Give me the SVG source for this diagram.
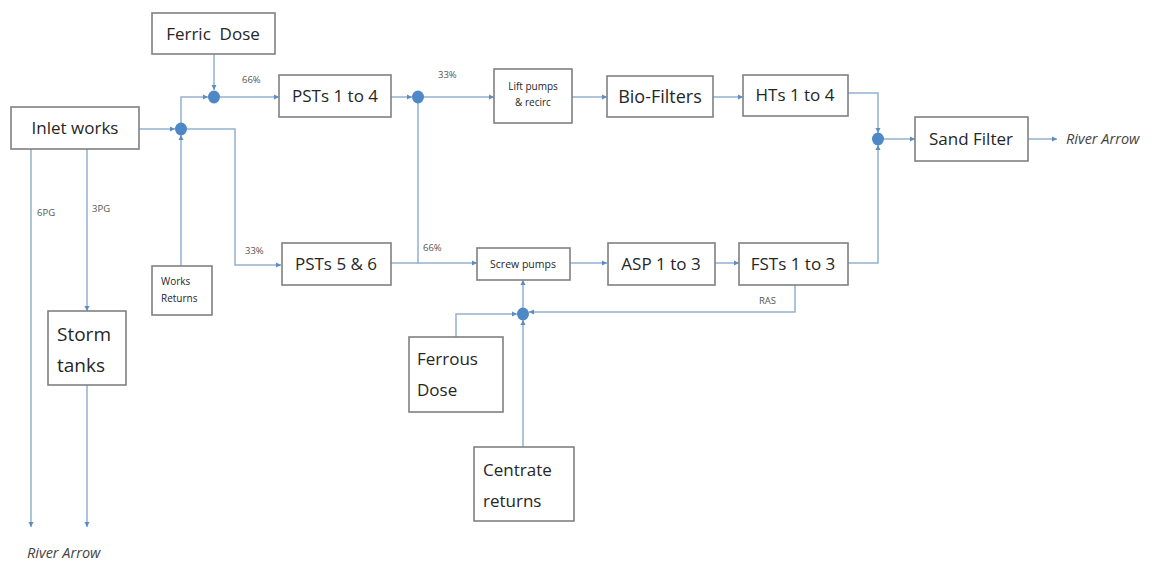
<svg xmlns="http://www.w3.org/2000/svg" width="1155" height="566" viewBox="0 0 1155 566">
<style>
.box{fill:#fff;stroke:#808080;stroke-width:1.6}
.t{font-family:"Open Sans","Liberation Sans",sans-serif;fill:#262626}
.c{text-anchor:middle}
.e{fill:none;stroke:#93b1cf;stroke-width:1.5;marker-end:url(#ah)}
.n{fill:none;stroke:#93b1cf;stroke-width:1.5}
.j{fill:#4f88c6}
.lab{font-family:"Open Sans","Liberation Sans",sans-serif;fill:#555;font-size:9.5px}
.riv{font-family:"Open Sans","Liberation Sans",sans-serif;fill:#444;font-size:14.5px;font-style:italic}
</style>
<defs>
<marker id="ah" markerWidth="6" markerHeight="6" refX="5" refY="3" orient="auto" markerUnits="userSpaceOnUse">
<path d="M0,0.5 L5,3 L0,5.5 Z" fill="#5b8cc2"/>
</marker>
</defs>
<rect width="1155" height="566" fill="#fff"/>
<g id="connectors">
<path class="e" d="M214 54 V90"/>
<path class="e" d="M139 129 H175"/>
<path class="e" d="M181 123 V97 H208"/>
<path class="e" d="M220 97 H279"/>
<path class="e" d="M187 129 H235 V265 H281"/>
<path class="e" d="M181 266 V135"/>
<path class="e" d="M391 97 H412"/>
<path class="e" d="M424 97 H494"/>
<path class="e" d="M418 103 V263 H477"/>
<path class="n" d="M391 263 H418"/>
<path class="e" d="M572 97 H607"/>
<path class="e" d="M713 97 H743"/>
<path class="e" d="M848 93 H878 V133"/>
<path class="e" d="M848 263 H878 V145"/>
<path class="e" d="M884 139 H915"/>
<path class="e" d="M1028 139 H1057"/>
<path class="e" d="M570 263 H607"/>
<path class="e" d="M715 263 H739"/>
<path class="e" d="M795 285 V312 H529"/>
<path class="e" d="M456 337 V314 H517"/>
<path class="e" d="M523 447 V320"/>
<path class="e" d="M523 308 V280"/>
<path class="e" d="M31 149 V527"/>
<path class="e" d="M87 149 V311"/>
<path class="e" d="M87 385 V527"/>
<ellipse class="j" cx="214" cy="97" rx="6" ry="6.5"/>
<ellipse class="j" cx="181" cy="129" rx="6" ry="6.5"/>
<ellipse class="j" cx="418" cy="97" rx="6" ry="6.5"/>
<ellipse class="j" cx="878" cy="139" rx="6" ry="6.5"/>
<ellipse class="j" cx="523" cy="314" rx="6" ry="6.5"/>
<text class="lab" x="242" y="83">66%</text>
<text class="lab" x="438" y="78">33%</text>
<text class="lab" x="245" y="254">33%</text>
<text class="lab" x="423" y="251">66%</text>
<text class="lab" x="37" y="216">6PG</text>
<text class="lab" x="92" y="212">3PG</text>
<text class="lab" x="759" y="304">RAS</text>
<text class="riv" x="1066" y="144">River Arrow</text>
<text class="riv" x="27" y="558">River Arrow</text>
</g>
<g id="ferric"><rect class="box" x="152" y="13" width="123" height="41"/><text class="t c" x="213" y="40" font-size="17" xml:space="preserve">Ferric  Dose</text></g>
<g id="inlet"><rect class="box" x="11" y="107" width="128" height="42"/><text class="t c" x="75" y="134" font-size="17">Inlet works</text></g>
<g id="pst14"><rect class="box" x="279" y="75" width="112" height="42"/><text class="t c" x="335" y="102" font-size="17">PSTs 1 to 4</text></g>
<g id="lift"><rect class="box" x="494" y="69" width="78" height="54"/><text class="t c" x="533" y="90" font-size="10">Lift pumps</text><text class="t c" x="533" y="106" font-size="10">&amp; recirc</text></g>
<g id="bio"><rect class="box" x="607" y="76" width="106" height="41"/><text class="t c" x="660" y="103" font-size="18">Bio-Filters</text></g>
<g id="hts"><rect class="box" x="743" y="75" width="105" height="41"/><text class="t c" x="795" y="101" font-size="17">HTs 1 to 4</text></g>
<g id="sand"><rect class="box" x="915" y="117" width="113" height="44"/><text class="t c" x="971" y="145" font-size="17">Sand Filter</text></g>
<g id="pst56"><rect class="box" x="282" y="243" width="109" height="42"/><text class="t c" x="336" y="270" font-size="17">PSTs 5 &amp; 6</text></g>
<g id="screw"><rect class="box" x="477" y="248" width="93" height="32"/><text class="t c" x="523" y="268" font-size="10.5">Screw pumps</text></g>
<g id="asp"><rect class="box" x="608" y="243" width="107" height="42"/><text class="t c" x="661" y="270" font-size="17">ASP 1 to 3</text></g>
<g id="fst"><rect class="box" x="739" y="243" width="109" height="42"/><text class="t c" x="793" y="270" font-size="17">FSTs 1 to 3</text></g>
<g id="works"><rect class="box" x="152" y="266" width="60" height="49"/><text class="t" x="161" y="285" font-size="10">Works</text><text class="t" x="161" y="302" font-size="10">Returns</text></g>
<g id="storm"><rect class="box" x="48" y="311" width="78" height="74"/><text class="t" x="57" y="341" font-size="19">Storm</text><text class="t" x="57" y="372" font-size="19">tanks</text></g>
<g id="ferrous"><rect class="box" x="409" y="337" width="94" height="75"/><text class="t" x="417" y="365" font-size="17">Ferrous</text><text class="t" x="417" y="396" font-size="17">Dose</text></g>
<g id="centrate"><rect class="box" x="474" y="447" width="100" height="74"/><text class="t" x="483" y="476" font-size="17">Centrate</text><text class="t" x="483" y="507" font-size="17">returns</text></g>
</svg>
